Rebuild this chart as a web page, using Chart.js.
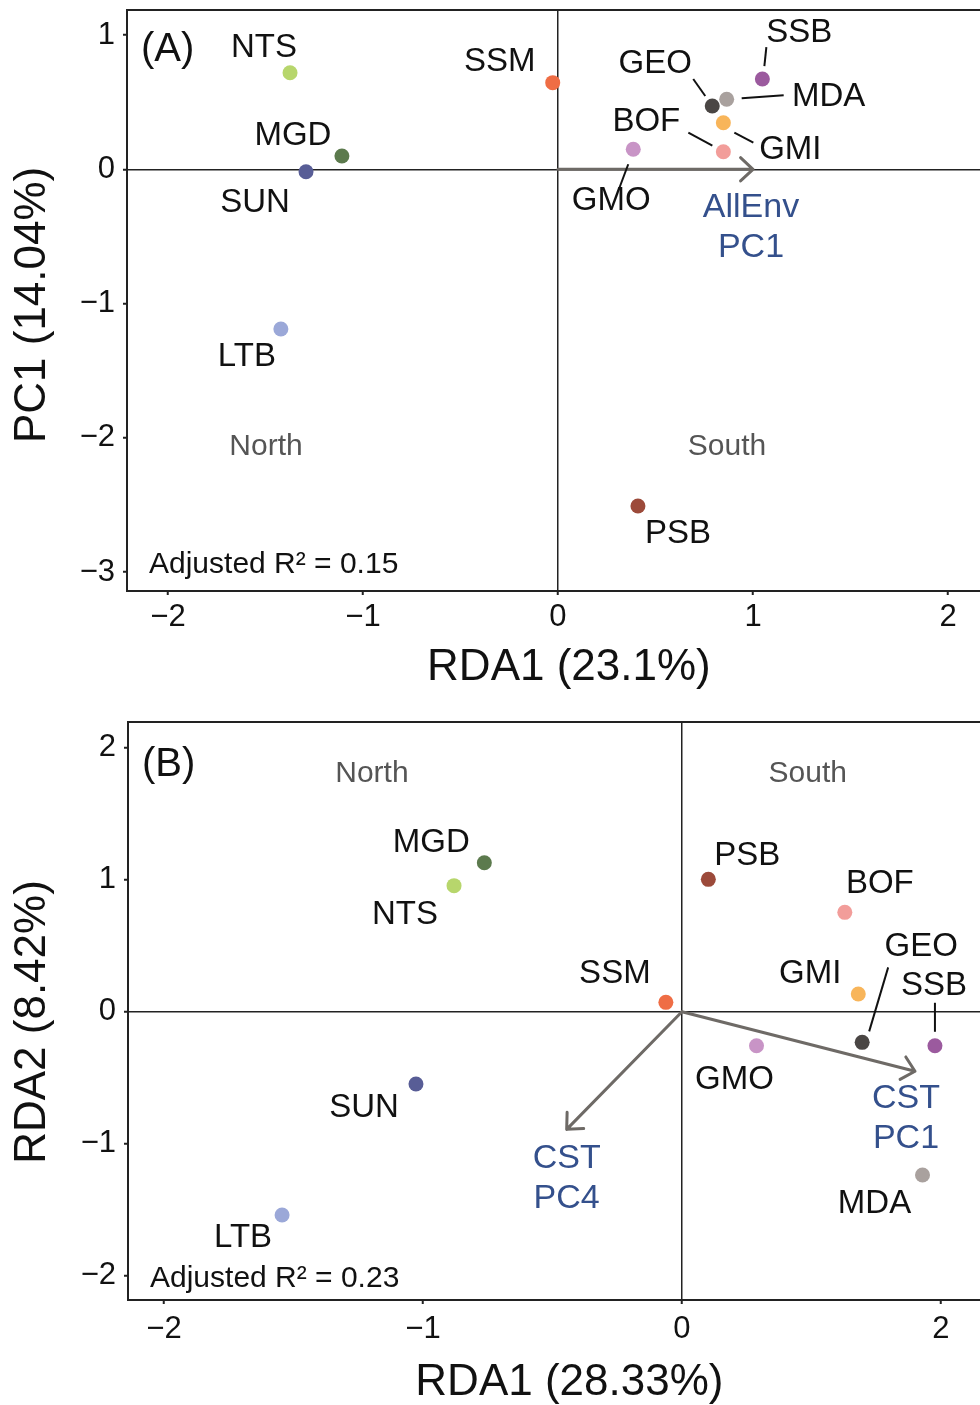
<!DOCTYPE html>
<html>
<head>
<meta charset="utf-8">
<script src="https://cdn.jsdelivr.net/npm/chart.js@4.4.1/dist/chart.umd.min.js"></script>
<style>
  body { margin: 0; background: #fff; }
  #wrap { position: relative; width: 980px; height: 1405px; }
  canvas { position: absolute; left: 0; }
  #chartA { top: 0; }
  #chartB { top: 700px; }
</style>
</head>
<body>
<div id="wrap">
  <canvas id="chartA" width="980" height="700"></canvas>
  <canvas id="chartB" width="980" height="705"></canvas>
</div>
<script>
// sites and colours (same order in both panels)
const sites = ['NTS', 'MGD', 'SUN', 'LTB', 'SSM', 'PSB', 'GMO', 'GEO', 'MDA', 'SSB', 'GMI', 'BOF'];
const siteColors = ['#b7d66c', '#5c7a4d', '#585d96', '#9ba8d8', '#ef6d45', '#9c4a3a',
                    '#c894c6', '#4a4644', '#a9a19e', '#9b5a9e', '#f8b55a', '#f29d9a'];

// panel A : RDA1 vs PC1
const rda1A = [-1.374, -1.108, -1.292, -1.421, -0.027, 0.410, 0.386, 0.791, 0.865, 1.048, 0.848, 0.848];
const pc1A  = [0.719, 0.099, -0.018, -1.189, 0.645, -2.507, 0.149, 0.471, 0.521, 0.672, 0.347, 0.131];
const xTicksA = [-2, -1, 0, 1, 2];
const yTicksA = [1, 0, -1, -2, -3];
const arrowNamesA = [['AllEnv', 'PC1']];
const arrowXA = [1.0];
const arrowYA = [0];
const r2A = '0.15';

// panel B : RDA1 vs RDA2
const rda1B = [-0.880, -0.763, -1.027, -1.544, -0.062, 0.102, 0.288, 0.696, 0.929, 0.977, 0.681, 0.629];
const rda2B = [0.955, 1.129, -0.548, -1.540, 0.071, 1.003, -0.258, -0.232, -1.237, -0.258, 0.134, 0.753];
const xTicksB = [-2, -1, 0, 1];
const xTickLabelsB = ['\u22122', '\u22121', '0', '2'];   // the reference prints "2" at the +1 tick
const yTicksB = [2, 1, 0, -1, -2];
const arrowNamesB = [['CST', 'PC1'], ['CST', 'PC4']];
const arrowXB = [0.900, -0.445];
const arrowYB = [-0.451, -0.891];
const r2B = '0.23';

// label placement (pixel offsets from the point) and leader lines
const labelOffA = {
  NTS: [-26, -25], MGD: [-49, -20], SUN: [-51, 31], LTB: [-34, 28], SSM: [-53, -21], PSB: [40, 28],
  GMO: [-22, 52], GEO: [-57, -42], MDA: [102, -2], SSB: [37, -46], GMI: [67, 27], BOF: [-77, -30]
};
const leadersA = {
  SSB: [4, -32, 2, -13], GEO: [-19, -27, -7, -10], MDA: [15, -1, 57, -4],
  BOF: [-35, -19, -11, -6], GMI: [11, 10, 30, 20], GMO: [-5, 15, -14, 39]
};
const labelOffB = {
  NTS: [-49, 29], MGD: [-53, -20], SUN: [-52, 24], LTB: [-39, 23], SSM: [-51, -28], PSB: [39, -23],
  GMO: [-22, 34], GEO: [59, -95], MDA: [-48, 29], SSB: [-1, -60], GMI: [-48, -20], BOF: [35, -28]
};
const leadersB = { GEO: [26, -75, 7, -11], SSB: [0, -43, 0, -14] };

const FONT = "'Liberation Sans', Arial, Helvetica, sans-serif";
const minus = v => String(v).replace('-', '\u2212');

function overlay(o) {
  return {
    id: 'overlay',
    beforeDatasetsDraw(chart) {
      const ctx = chart.ctx, xs = chart.scales.x, ys = chart.scales.y;
      const x0 = xs.getPixelForValue(0), y0 = ys.getPixelForValue(0);
      ctx.save();
      ctx.strokeStyle = '#6e6a66';
      ctx.lineWidth = 3;
      ctx.lineCap = 'round';
      ctx.lineJoin = 'round';
      o.arrowX.forEach((ax, i) => {
        const x1 = xs.getPixelForValue(ax), y1 = ys.getPixelForValue(o.arrowY[i]);
        const a = Math.atan2(y1 - y0, x1 - x0);
        ctx.beginPath();
        ctx.moveTo(x0, y0);
        ctx.lineTo(x1, y1);
        ctx.moveTo(x1 + 17 * Math.cos(a + Math.PI - 0.75), y1 + 17 * Math.sin(a + Math.PI - 0.75));
        ctx.lineTo(x1, y1);
        ctx.lineTo(x1 + 17 * Math.cos(a + Math.PI + 0.75), y1 + 17 * Math.sin(a + Math.PI + 0.75));
        ctx.stroke();
        // arrow label
        ctx.fillStyle = '#34508c';
        ctx.font = '34px ' + FONT;
        ctx.textAlign = 'center';
        ctx.textBaseline = 'middle';
        const off = o.arrowLabelOff[i];
        o.arrowNames[i].forEach((t, k) => ctx.fillText(t, x1 + off[0], y1 + off[1] + k * 40));
      });
      ctx.restore();
    },
    afterDatasetsDraw(chart) {
      const ctx = chart.ctx, xs = chart.scales.x, ys = chart.scales.y;
      const {left, top, right, bottom} = chart.chartArea;
      ctx.save();
      // frame (right side is cut off in the reference)
      ctx.strokeStyle = '#222';
      ctx.lineWidth = 2;
      ctx.beginPath();
      ctx.moveTo(right + 2, top);
      ctx.lineTo(left, top);
      ctx.lineTo(left, bottom);
      ctx.lineTo(right + 2, bottom);
      ctx.stroke();

      // site labels + leader lines
      ctx.textAlign = 'center';
      ctx.textBaseline = 'middle';
      ctx.font = '33px ' + FONT;
      ctx.fillStyle = '#111';
      ctx.strokeStyle = '#111';
      ctx.lineWidth = 2;
      sites.forEach((s, i) => {
        const px = xs.getPixelForValue(o.xs[i]), py = ys.getPixelForValue(o.ys[i]);
        const off = o.labelOff[s];
        ctx.fillText(s, px + off[0], py + off[1]);
        const l = o.leaders[s];
        if (l) {
          ctx.beginPath();
          ctx.moveTo(px + l[0], py + l[1]);
          ctx.lineTo(px + l[2], py + l[3]);
          ctx.stroke();
        }
      });

      // North / South
      ctx.font = '30px ' + FONT;
      ctx.fillStyle = '#555';
      ctx.fillText('North', xs.getPixelForValue(o.north[0]), ys.getPixelForValue(o.north[1]));
      ctx.fillText('South', xs.getPixelForValue(o.south[0]), ys.getPixelForValue(o.south[1]));

      // panel tag and adjusted R2
      ctx.textAlign = 'left';
      ctx.fillStyle = '#111';
      ctx.font = '40px ' + FONT;
      ctx.fillText(o.tag, left + 14, top + o.tagDy);
      ctx.font = '30px ' + FONT;
      ctx.fillText('Adjusted R\u00b2 = ' + o.r2, left + 22, bottom - o.r2Dy);
      ctx.restore();
    }
  };
}

function makeChart(id, o) {
  const tickFont = { family: FONT, size: 31 };
  const titleFont = { family: FONT, size: 44, lineHeight: 1 };
  new Chart(document.getElementById(id), {
    type: 'scatter',
    data: {
      datasets: [{
        data: o.xs.map((x, i) => ({ x: x, y: o.ys[i] })),
        pointBackgroundColor: siteColors,
        pointBorderWidth: 0,
        pointRadius: 7.5
      }]
    },
    options: {
      responsive: false,
      animation: false,
      devicePixelRatio: 1,
      layout: { autoPadding: false, padding: { top: o.padTop, right: 0, left: 0, bottom: 0 } },
      plugins: { legend: { display: false }, tooltip: { enabled: false } },
      scales: {
        x: {
          type: 'linear',
          min: o.xmin, max: o.xmax,
          afterBuildTicks: s => { s.ticks = o.xTicks.map(v => ({ value: v })); },
          afterFit: s => { s.height = o.xAxisH; s.paddingLeft = 0; s.paddingRight = 0; },
          border: { display: false },
          grid: {
            color: c => (c.tick && c.tick.value === 0) ? '#222' : 'rgba(0,0,0,0)',
            lineWidth: 1.5, tickColor: '#222', tickWidth: 2, tickLength: 4
          },
          ticks: {
            font: tickFont, color: '#111', padding: o.xTickPad, maxRotation: 0, autoSkip: false,
            callback: (v, i) => o.xTickLabels ? o.xTickLabels[i] : minus(v)
          },
          // leading spaces nudge the title right, as in the reference
          title: { display: true, text: '\u2002\u2009' + o.xTitle, font: titleFont, color: '#111', padding: { top: 0, bottom: o.xTitlePad } }
        },
        y: {
          type: 'linear',
          min: o.ymin, max: o.ymax,
          afterBuildTicks: s => { s.ticks = o.yTicks.map(v => ({ value: v })); },
          afterFit: s => { s.width = o.yAxisW; s.paddingTop = 0; s.paddingBottom = 0; },
          border: { display: false },
          grid: {
            color: c => (c.tick && c.tick.value === 0) ? '#222' : 'rgba(0,0,0,0)',
            lineWidth: 1.5, tickColor: '#222', tickWidth: 2, tickLength: 4
          },
          ticks: { font: tickFont, color: '#111', padding: 8, autoSkip: false, callback: v => minus(v) },
          title: { display: true, text: o.yTitle + o.yTitleTail, font: titleFont, color: '#111', padding: { top: 11, bottom: 0 } }
        }
      }
    },
    plugins: [overlay(o)]
  });
}

makeChart('chartA', {
  xs: rda1A, ys: pc1A, xTicks: xTicksA, yTicks: yTicksA,
  xmin: -2.21, xmax: 2.164, ymin: -3.14, ymax: 1.186,
  padTop: 10, xAxisH: 109, yAxisW: 127, xTickPad: 4, xTitlePad: 10,
  xTitle: 'RDA1 (23.1%)', yTitle: 'PC1 (14.04%)', yTitleTail: '\u2009',
  arrowX: arrowXA, arrowY: arrowYA, arrowNames: arrowNamesA, arrowLabelOff: [[-2, 38]],
  labelOff: labelOffA, leaders: leadersA,
  north: [-1.497, -2.068], south: [0.867, -2.068],
  tag: '(A)', tagDy: 40, r2: r2A, r2Dy: 26
});

makeChart('chartB', {
  xs: rda1B, ys: rda2B, xTicks: xTicksB, xTickLabels: xTickLabelsB, yTicks: yTicksB,
  xmin: -2.139, xmax: 1.151, ymin: -2.184, ymax: 2.195,
  padTop: 22, xAxisH: 105, yAxisW: 128, xTickPad: 7, xTitlePad: 0,
  xTitle: 'RDA1 (28.33%)', yTitle: 'RDA2 (8.42%)', yTitleTail: '\u2002',
  arrowX: arrowXB, arrowY: arrowYB, arrowNames: arrowNamesB, arrowLabelOff: [[-9, 27], [0, 29]],
  labelOff: labelOffB, leaders: leadersB,
  north: [-1.197, 1.80], south: [0.486, 1.80],
  tag: '(B)', tagDy: 43, r2: r2B, r2Dy: 21
});
</script>
</body>
</html>
